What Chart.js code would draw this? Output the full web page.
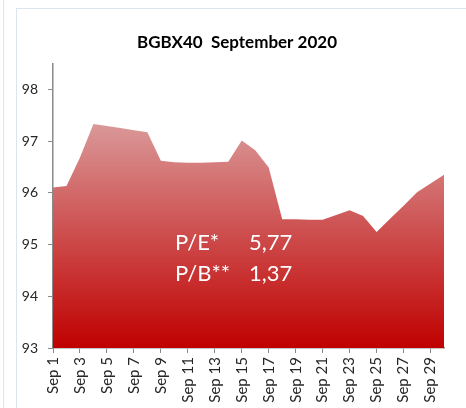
<!DOCTYPE html>
<html>
<head>
<meta charset="utf-8">
<script src="https://cdn.jsdelivr.net/npm/chart.js@4/dist/chart.umd.min.js"></script>
<style>
html,body{margin:0;padding:0;background:#fff;}
canvas{display:block;}
</style>
</head>
<body>
<canvas id="c" width="466" height="408"></canvas>
<script>
const chartTitle = "BGBX40  September 2020";
const days = ["Sep 1","Sep 2","Sep 3","Sep 4","Sep 5","Sep 6","Sep 7","Sep 8","Sep 9","Sep 10",
  "Sep 11","Sep 12","Sep 13","Sep 14","Sep 15","Sep 16","Sep 17","Sep 18","Sep 19","Sep 20",
  "Sep 21","Sep 22","Sep 23","Sep 24","Sep 25","Sep 26","Sep 27","Sep 28","Sep 29","Sep 30"];
const indexValues = [96.10, 96.13, 96.68, 97.33, 97.29, 97.25, 97.21, 97.17, 96.62, 96.59,
  96.58, 96.58, 96.59, 96.60, 97.01, 96.82, 96.49, 95.49, 95.49, 95.48,
  95.48, 95.57, 95.66, 95.55, 95.24, 95.50, 95.75, 96.01, 96.18, 96.35];
const yTicks = [93, 94, 95, 96, 97, 98];
const ratioLabels = ["P/E*", "P/B**"];
const ratioValues = ["5,77", "1,37"];

const axisGray = "#8a8a8a";
const textColor = "#262626";

const framePlugin = {
  id: "frame",
  beforeDraw(chart) {
    const ctx = chart.ctx;
    ctx.save();
    ctx.fillStyle = "#fff";
    ctx.fillRect(0, 0, chart.width, chart.height);
    ctx.strokeStyle = "#dbe4f0";
    ctx.lineWidth = 1;
    ctx.beginPath();
    ctx.moveTo(3.5, 0); ctx.lineTo(3.5, chart.height);
    ctx.moveTo(16.5, 8); ctx.lineTo(16.5, chart.height);
    ctx.moveTo(16, 8.5); ctx.lineTo(chart.width, 8.5);
    ctx.stroke();
    ctx.restore();
  }
};

const ratioPlugin = {
  id: "ratios",
  afterDatasetsDraw(chart) {
    const ctx = chart.ctx;
    const a = chart.chartArea;
    ctx.save();
    ctx.fillStyle = "#ffffff";
    ctx.font = "22px Lato";
    ctx.textBaseline = "alphabetic";
    ctx.textAlign = "left";
    for (let i = 0; i < ratioLabels.length; i++) {
      const y = a.top + 187 + i * 31;
      ctx.fillText(ratioLabels[i], a.left + 122, y);
      ctx.fillText(ratioValues[i], a.left + 196, y);
    }
    ctx.restore();
  }
};

function areaGradient(context) {
  const chart = context.chart;
  const area = chart.chartArea;
  if (!area) return "#c00000";
  const yScale = chart.scales.y;
  const top = yScale.getPixelForValue(Math.max(...indexValues));
  const g = chart.ctx.createLinearGradient(0, top, 0, area.bottom);
  g.addColorStop(0, "#da9898");
  g.addColorStop(1, "#c00000");
  return g;
}

new Chart(document.getElementById("c"), {
  type: "line",
  data: {
    labels: days,
    datasets: [{
      data: indexValues,
      fill: "start",
      backgroundColor: areaGradient,
      borderWidth: 0,
      borderColor: "rgba(0,0,0,0)",
      pointRadius: 0,
      tension: 0
    }]
  },
  options: {
    responsive: false,
    animation: false,
    layout: { padding: { left: 17, right: 9, top: 0, bottom: 0 } },
    plugins: {
      legend: { display: false },
      tooltip: { enabled: false },
      title: {
        display: true,
        text: chartTitle,
        color: "#000",
        font: { family: "Lato", size: 17, weight: "bold" },
        padding: { top: 32, bottom: 11 }
      }
    },
    scales: {
      x: {
        type: "category",
        offset: false,
        afterFit(s) { s.height = 60; },
        grid: {
          drawOnChartArea: false,
          tickLength: 5,
          tickColor: (ctx) => (ctx.index % 2 === 0 ? axisGray : "rgba(0,0,0,0)")
        },
        border: { display: true, color: axisGray, width: 1.5 },
        ticks: {
          autoSkip: false,
          minRotation: 90,
          maxRotation: 90,
          padding: 4,
          color: textColor,
          font: { family: "Lato", size: 15 },
          callback(v, i) { return i % 2 === 0 ? days[i] : ""; }
        }
      },
      y: {
        min: yTicks[0],
        max: 98.5,
        afterFit(s) { s.width = 36; },
        afterBuildTicks(s) { s.ticks = yTicks.map(v => ({ value: v })); },
        grid: { drawOnChartArea: false, tickLength: 5, tickColor: axisGray },
        border: { display: true, color: axisGray, width: 1.5 },
        ticks: {
          padding: 10,
          color: textColor,
          font: { family: "Lato", size: 14 }
        }
      }
    }
  },
  plugins: [framePlugin, ratioPlugin]
});
</script>
</body>
</html>
